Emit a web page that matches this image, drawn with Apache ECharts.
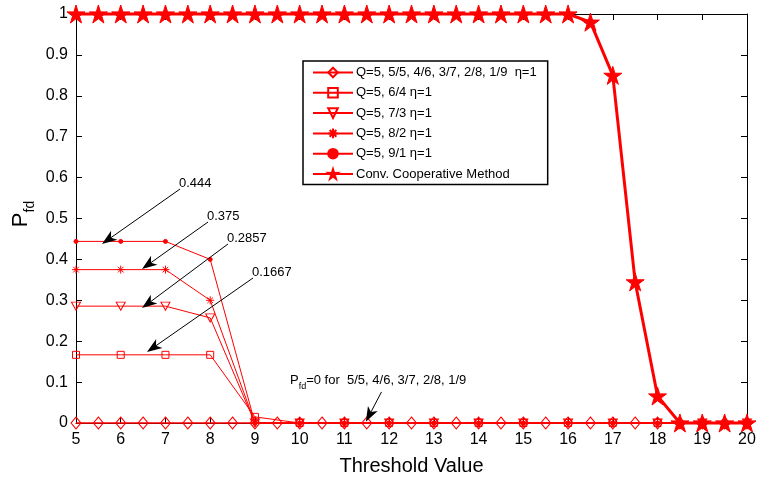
<!DOCTYPE html>
<html>
<head>
<meta charset="utf-8">
<script src="https://cdn.jsdelivr.net/npm/echarts@6/dist/echarts.min.js"></script>
<style>
html, body { margin: 0; padding: 0; background: #fff; }
#chart { width: 762px; height: 479px; }
</style>
</head>
<body>
<div id="chart"></div>
<script>
// threshold values
const xHalf = [5, 5.5, 6, 6.5, 7, 7.5, 8, 8.5, 9, 9.5, 10, 10.5, 11, 11.5, 12, 12.5, 13, 13.5, 14, 14.5, 15, 15.5, 16, 16.5, 17, 17.5, 18, 18.5, 19, 19.5, 20];
const xInt = [5, 6, 7, 8, 9, 10, 11, 12, 13, 14, 15, 16, 17, 18, 19, 20];

// P_fd values
const pfdZero = [0, 0, 0, 0, 0, 0, 0, 0, 0, 0, 0, 0, 0, 0, 0, 0, 0, 0, 0, 0, 0, 0, 0, 0, 0, 0, 0, 0, 0, 0, 0];
const pfd64 = [0.1667, 0.1667, 0.1667, 0.1667, 0.015, 0, 0, 0, 0, 0, 0, 0, 0, 0, 0, 0];
const pfd73 = [0.2857, 0.2857, 0.2857, 0.257, 0, 0, 0, 0, 0, 0, 0, 0, 0, 0, 0, 0];
const pfd82 = [0.375, 0.375, 0.375, 0.3, 0, 0, 0, 0, 0, 0, 0, 0, 0, 0, 0, 0];
const pfd91 = [0.444, 0.444, 0.444, 0.4, 0, 0, 0, 0, 0, 0, 0, 0, 0, 0, 0, 0];
const pfdConv = [1, 1, 1, 1, 1, 1, 1, 1, 1, 1, 1, 1, 1, 1, 1, 1, 1, 1, 1, 1, 1, 1, 1, 0.98, 0.85, 0.345, 0.066, 0, 0, 0, 0];

const seriesNames = [
    'Q=5, 5/5, 4/6, 3/7, 2/8, 1/9  η=1',
    'Q=5, 6/4 η=1',
    'Q=5, 7/3 η=1',
    'Q=5, 8/2 η=1',
    'Q=5, 9/1 η=1',
    'Conv. Cooperative Method'
];

// arrow notes: [text, tail (x,y), head (x,y)]
const notes = [
    ['0.444', [7.325, 0.572], [5.581, 0.4377]],
    ['0.375', [7.951, 0.4914], [6.476, 0.3765]],
    ['0.2857', [8.398, 0.4377], [6.476, 0.281]],
    ['0.1667', [8.957, 0.3545], [6.587, 0.1736]]
];

const FONT = '"Liberation Sans", Arial, sans-serif';
const RED = '#ff0000';

const pair = (xs, ys) => xs.map((x, i) => [x, ys[i]]);

const starPath = 'path://M50,0 L61.17,34.63 L97.55,34.55 L68.07,55.87 L79.39,90.45 L50,69 L20.61,90.45 L31.93,55.87 L2.45,34.55 L38.83,34.63 Z';

function lineSeries(name, data, symbol, size, hollow, width) {
    return {
        name: name,
        type: 'line',
        data: data,
        symbol: symbol,
        symbolSize: size,
        clip: false,
        lineStyle: { color: RED, width: width || 1 },
        itemStyle: hollow
            ? { color: 'transparent', borderColor: RED, borderWidth: 1 }
            : { color: RED, borderColor: RED, borderWidth: 1 },
        emphasis: { disabled: true }
    }
}

const chart = echarts.init(document.getElementById('chart'));

const axisCommon = {
    type: 'value',
    axisLine: { show: true, onZero: false, lineStyle: { color: '#000', width: 1 } },
    axisTick: { show: true, inside: true, length: 6, lineStyle: { color: '#000' } },
    splitLine: { show: false }
};

const option = {
    animation: false,
    backgroundColor: '#fff',
    textStyle: { fontFamily: FONT },
    grid: { left: 76, right: 15, top: 14, bottom: 56, outerBoundsMode: 'none' },
    legend: {
        orient: 'vertical',
        left: 303,
        top: 61,
        padding: [5, 11, 4, 9],
        itemWidth: 40,
        itemHeight: 12,
        itemGap: 7.3,
        borderColor: '#000',
        borderWidth: 1.5,
        borderRadius: 0,
        backgroundColor: '#fff',
        textStyle: { fontSize: 13, color: '#000', fontFamily: FONT, padding: [0, 0, 0, -2] },
        data: seriesNames
    },
    xAxis: [
        Object.assign({}, axisCommon, {
            min: 5, max: 20, interval: 1,
            name: 'Threshold Value',
            nameLocation: 'middle',
            nameGap: 33,
            nameTextStyle: { fontSize: 20, color: '#000', fontFamily: FONT },
            axisLabel: { fontSize: 16, color: '#000', margin: 9, fontFamily: FONT }
        }),
        Object.assign({}, axisCommon, {
            position: 'top', min: 5, max: 20, interval: 1,
            axisLabel: { show: false }
        })
    ],
    yAxis: [
        Object.assign({}, axisCommon, {
            min: 0, max: 1, interval: 0.1,
            axisLabel: { fontSize: 16, color: '#000', margin: 8, fontFamily: FONT }
        }),
        Object.assign({}, axisCommon, {
            position: 'right', min: 0, max: 1, interval: 0.1,
            axisLabel: { show: false }
        })
    ],
    series: [
        lineSeries(seriesNames[0], pair(xHalf, pfdZero), 'path://M5,0 L10,6 L5,12 L0,6 Z', [10, 12], true, 1.5),
        lineSeries(seriesNames[1], pair(xInt, pfd64), 'path://M0,0 L10,0 L10,10 L0,10 Z', 7, true),
        lineSeries(seriesNames[2], pair(xInt, pfd73), 'path://M0,0 L10,0 L5,9 Z', [9, 8], true),
        lineSeries(seriesNames[3], pair(xInt, pfd82), 'path://M5,0 L5,10 M0,5 L10,5 M1.5,1.5 L8.5,8.5 M8.5,1.5 L1.5,8.5', 8, true),
        lineSeries(seriesNames[4], pair(xInt, pfd91), 'circle', 4, false),
        lineSeries(seriesNames[5], pair(xHalf, pfdConv), starPath, 18, false, 3)
    ]
};

chart.setOption(option);

// annotations drawn on top in pixel space
const toPx = p => chart.convertToPixel({ xAxisIndex: 0, yAxisIndex: 0 }, p);

function arrow(tail, head) {
    const t = toPx(tail), h = toPx(head);
    const dx = h[0] - t[0], dy = h[1] - t[1];
    const len = Math.hypot(dx, dy);
    const ux = dx / len, uy = dy / len, nx = -uy, ny = ux;
    const L = 15, W = 5.5, N = 11;
    const base = [h[0] - ux * L, h[1] - uy * L];
    const notch = [h[0] - ux * N, h[1] - uy * N];
    return [
        { type: 'line', z: 100, shape: { x1: t[0], y1: t[1], x2: notch[0], y2: notch[1] }, style: { stroke: '#000', lineWidth: 1 } },
        { type: 'polygon', z: 100, shape: { points: [h, [base[0] + nx * W, base[1] + ny * W], notch, [base[0] - nx * W, base[1] - ny * W]] }, style: { fill: '#000' } }
    ];
}

let graphics = [];
notes.forEach(n => {
    graphics = graphics.concat(arrow(n[1], n[2]));
    const t = toPx(n[1]);
    graphics.push({
        type: 'text', z: 100, x: t[0] - 1, y: t[1] - 6,
        style: { text: n[0], fontSize: 13, fontFamily: FONT, fill: '#000', align: 'left', verticalAlign: 'middle' }
    });
});

// P_fd = 0 note
graphics = graphics.concat(arrow([11.83, 0.076], [11.48, 0.003]));
const pNote = toPx([9.784, 0.105]);
graphics.push({
    type: 'text', z: 100, x: pNote[0], y: pNote[1],
    style: {
        text: '{a|P}{s|fd}{a|=0 for  5/5, 4/6, 3/7, 2/8, 1/9}',
        fontFamily: FONT, fill: '#000', align: 'left', verticalAlign: 'middle',
        rich: {
            a: { fontSize: 13, fontFamily: FONT, fill: '#000' },
            s: { fontSize: 9, fontFamily: FONT, fill: '#000', padding: [12, 0, 0, 0] }
        }
    }
});

// y axis title P_fd
graphics.push({
    type: 'text', z: 100, x: 21, y: 214, rotation: Math.PI / 2,
    style: {
        text: '{p|P}{s|fd}',
        fill: '#000', align: 'center', verticalAlign: 'middle',
        rich: {
            p: { fontSize: 22, fontFamily: FONT, fill: '#000' },
            s: { fontSize: 14, fontFamily: FONT, fill: '#000', padding: [18, 0, 0, 0] }
        }
    }
});

chart.setOption({ graphic: graphics });
</script>
</body>
</html>
